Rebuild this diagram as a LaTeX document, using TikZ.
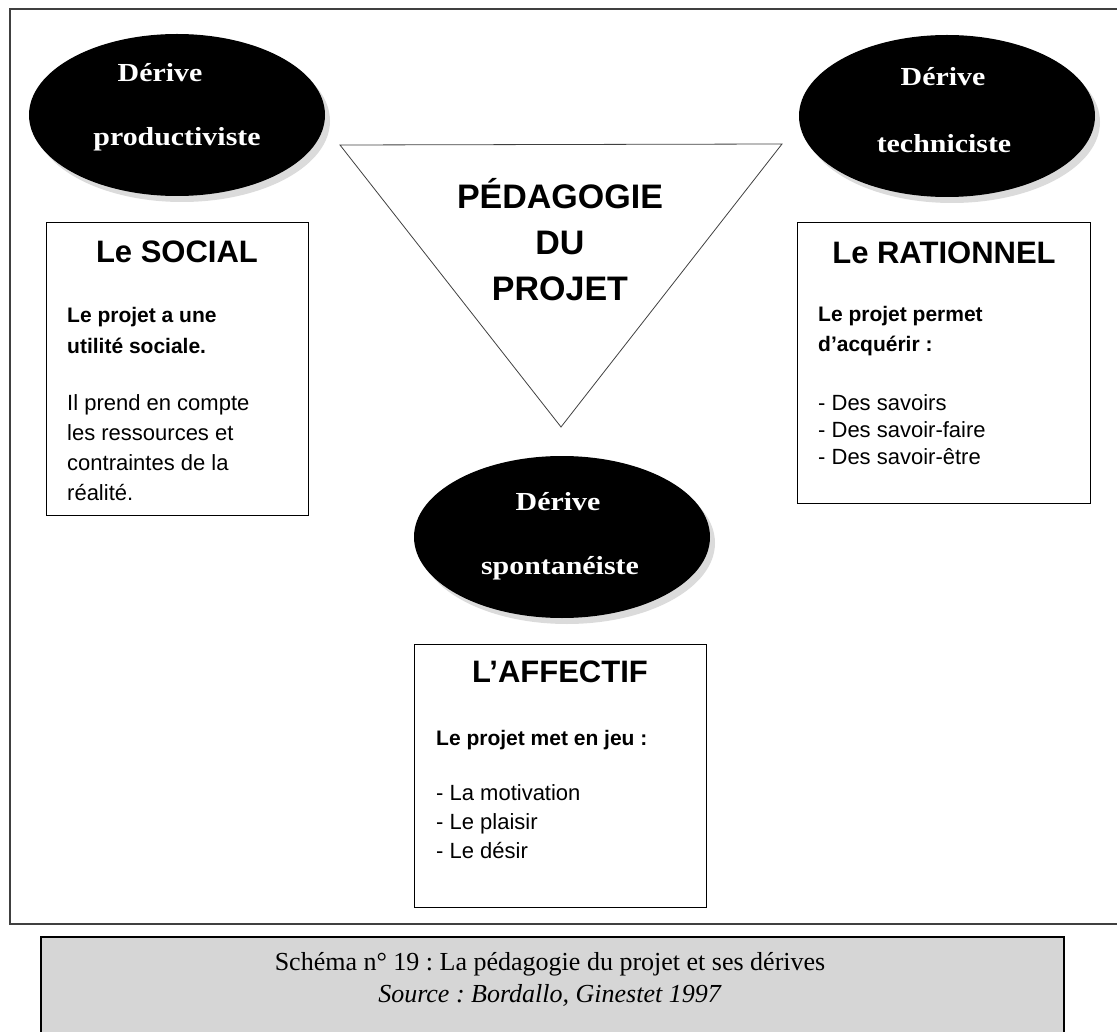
\documentclass[tikz,border=0pt]{standalone}
\usepackage{fontspec}
\setmainfont{Liberation Serif}
\setsansfont{Liberation Sans}
\newfontfamily\derivefont[FakeStretch=1.15]{Liberation Serif}
\usetikzlibrary{shapes.geometric, positioning}
\frenchspacing

\definecolor{legende}{HTML}{D6D6D6}
\definecolor{trait}{HTML}{404040}

\begin{document}
\begin{tikzpicture}[x=1pt, y=-1pt,
  derive/.style={ellipse, fill=black, minimum width=296pt, minimum height=162pt, inner sep=0pt},
  ombre/.style={ellipse, fill=gray!28, minimum width=296pt, minimum height=162pt, inner sep=0pt},
  mot/.style={text=white, font=\derivefont\bfseries\fontsize{26}{26}\selectfont, inner sep=0pt, anchor=base},
  cadre/.style={rectangle, draw, line width=1.2pt, inner sep=0pt, anchor=north west},
  titre/.style={font=\sffamily\bfseries\fontsize{31}{31}\selectfont, inner sep=0pt},
  gras/.style={font=\sffamily\bfseries\fontsize{21}{31}\selectfont, align=left, anchor=base west, inner sep=0pt},
  liste/.style={font=\sffamily\fontsize{22}{30}\selectfont, align=left, anchor=base west, inner sep=0pt}
]
  \useasboundingbox (0,0) rectangle (1117,1032);

  % Cadre general
  \draw[trait, line width=1.5pt] (1125,9) -- (10,9) -- (10,924) -- (1125,924);

  % Triangle central
  \coordinate (tg) at (340,145);
  \coordinate (td) at (782,144);
  \coordinate (pointe) at (561,427);
  \draw[trait, line width=0.8pt] (tg) -- (td) -- (pointe) -- cycle;
  \node[font=\sffamily\bfseries\fontsize{34}{46}\selectfont, align=center] (pedago) at (560,240) {PÉDAGOGIE\\DU\\PROJET};

  % Derives
  \node[ombre] (ombre-prod) at (182,121) {};
  \node[derive] (prod) at (177,115) {};
  \node[mot] (prod-a) at (160,82) {Dérive};
  \node[mot] (prod-b) at (177,146) {productiviste};

  \node[ombre] (ombre-tech) at (952,122) {};
  \node[derive] (tech) at (947,116) {};
  \node[mot] (tech-a) at (943,86) {Dérive};
  \node[mot] (tech-b) at (944,153) {techniciste};

  \node[ombre] (ombre-spont) at (567,543) {};
  \node[derive] (spont) at (562,537) {};
  \node[mot] (spont-a) at (558,510) {Dérive};
  \node[mot] (spont-b) at (560,574) {spontanéiste};

  % Le SOCIAL (base = last line)
  \node[cadre, minimum width=262pt, minimum height=293pt] (social) at (46,222) {};
  \node[titre] (social-t) at (177,252) {Le SOCIAL};
  \node[gras, font=\sffamily\bfseries\fontsize{21}{32}\selectfont] (social-g) at (67,354) {Le projet a une\\utilité sociale.};
  \node[liste] (social-l) at (67,500) {Il prend en compte\\les ressources et\\contraintes de la\\réalité.};

  % Le RATIONNEL
  \node[cadre, minimum width=293pt, minimum height=281pt] (rationnel) at (797,222) {};
  \node[titre] (rationnel-t) at (944,253) {Le RATIONNEL};
  \node[gras, font=\sffamily\bfseries\fontsize{21}{30}\selectfont] (rationnel-g) at (818,352) {Le projet permet\\d’acquérir :};
  \node[liste, font=\sffamily\fontsize{22}{27}\selectfont] (rationnel-l) at (818,464) {- Des savoirs\\- Des savoir-faire\\- Des savoir-être};

  % L'AFFECTIF
  \node[cadre, minimum width=292pt, minimum height=263pt] (affectif) at (414,644) {};
  \node[titre] (affectif-t) at (560,672) {L’AFFECTIF};
  \node[gras] (affectif-g) at (436,745) {Le projet met en jeu :};
  \node[liste, font=\sffamily\fontsize{22}{29}\selectfont] (affectif-l) at (436,858) {- La motivation\\- Le plaisir\\- Le désir};

  % Legende
  \node[draw, line width=1.5pt, fill=legende, anchor=north west, minimum width=1023pt, minimum height=120pt] (legende) at (40,936) {};
  \node[font=\fontsize{26}{32}\selectfont, align=center] (source) at (550,979) {Schéma n° 19 : La pédagogie du projet et ses dérives\\\textit{Source : Bordallo, Ginestet 1997}};
\end{tikzpicture}
\end{document}
